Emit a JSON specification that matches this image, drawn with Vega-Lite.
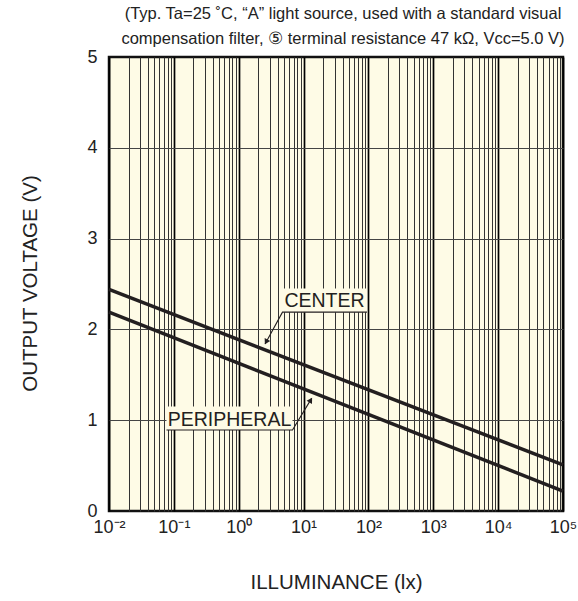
{
  "$schema": "https://vega.github.io/schema/vega-lite/v6.json",
  "width": 454,
  "height": 454,
  "autosize": {"type": "none"},
  "padding": {"left": 109, "top": 57, "right": 15, "bottom": 90},
  "background": "white",
  "config": {
    "font": "Liberation Sans",
    "view": {"fill": "#FEFBE6", "stroke": "#111", "strokeWidth": 2.5}
  },
  "title": {
    "text": [
      "(Typ. Ta=25 ˚C, “A” light source, used with a standard visual",
      "compensation filter, ⑤ terminal resistance 47 kΩ, Vcc=5.0 V)"
    ],
    "fontSize": 16.5,
    "fontWeight": "normal",
    "color": "#222",
    "anchor": "middle",
    "dx": 7,
    "offset": 1,
    "lineHeight": 25
  },
  "datasets": {
    "curves": [
      {"series": "CENTER", "lux": 0.01, "v": 2.44},
      {"series": "CENTER", "lux": 100000, "v": 0.507},
      {"series": "PERIPHERAL", "lux": 0.01, "v": 2.19},
      {"series": "PERIPHERAL", "lux": 100000, "v": 0.22}
    ],
    "boxes": [
      {"label": "CENTER", "lux": 4.73, "lux2": 95, "v": 2.19, "v2": 2.45},
      {"label": "PERIPHERAL", "lux": 0.077, "lux2": 6.75, "v": 0.892, "v2": 1.15}
    ],
    "leaders": [
      {"label": "CENTER", "o": 1, "lux": 95, "v": 2.19},
      {"label": "CENTER", "o": 2, "lux": 4.73, "v": 2.19},
      {"label": "CENTER", "o": 3, "lux": 2.55, "v": 1.84},
      {"label": "PERIPHERAL", "o": 1, "lux": 0.077, "v": 0.892},
      {"label": "PERIPHERAL", "o": 2, "lux": 6.75, "v": 0.892},
      {"label": "PERIPHERAL", "o": 3, "lux": 13.3, "v": 1.24}
    ],
    "arrows": [
      {"label": "CENTER", "lux": 2.65, "v": 1.862},
      {"label": "PERIPHERAL", "lux": 12.88, "v": 1.222}
    ],
    "labels": [
      {"label": "CENTER", "lux": 21, "v": 2.245},
      {"label": "PERIPHERAL", "lux": 0.72, "v": 0.934}
    ]
  },
  "layer": [
    {
      "data": {"name": "curves"},
      "mark": {"type": "line", "color": "#231F20", "strokeWidth": 3.5, "strokeCap": "butt"},
      "encoding": {
        "x": {
          "field": "lux",
          "type": "quantitative",
          "scale": {"type": "log", "domain": [0.01, 100000], "nice": false},
          "axis": {
            "values": [0.01,0.02,0.03,0.04,0.05,0.06,0.07,0.08,0.09,0.1,0.2,0.3,0.4,0.5,0.6,0.7,0.8,0.9,1,2,3,4,5,6,7,8,9,10,20,30,40,50,60,70,80,90,100,200,300,400,500,600,700,800,900,1000,2000,3000,4000,5000,6000,7000,8000,9000,10000,20000,30000,40000,50000,60000,70000,80000,90000,100000],
            "grid": true,
            "gridColor": {"condition": {"test": "abs(log(datum.value)/LN10 - round(log(datum.value)/LN10)) < 0.01", "value": "#000"}, "value": "#333"},
            "gridWidth": {"condition": {"test": "abs(log(datum.value)/LN10 - round(log(datum.value)/LN10)) < 0.01", "value": 1.7}, "value": 1},
            "ticks": false,
            "domain": false,
            "labelExpr": "abs(log(datum.value)/LN10 - round(log(datum.value)/LN10)) < 0.01 ? '10' + ['⁻²','⁻¹','⁰','¹','²','³','⁴','⁵'][round(log(datum.value)/LN10)+2] : ''",
            "labelOverlap": false,
            "labelFlush": false,
            "labelBound": false,
            "labelFontSize": 18,
            "labelColor": "#222",
            "labelPadding": 7,
            "title": "ILLUMINANCE (lx)",
            "titleFontSize": 20.5,
            "titleFontWeight": "normal",
            "titleColor": "#222",
            "titleX": 227,
            "titleY": 71,
            "titleBaseline": "middle",
            "titleAlign": "center"
          }
        },
        "y": {
          "field": "v",
          "type": "quantitative",
          "scale": {"domain": [0, 5], "nice": false},
          "axis": {
            "values": [0, 1, 2, 3, 4, 5],
            "format": "d",
            "grid": true,
            "gridColor": "#444",
            "gridWidth": 1.2,
            "gridOpacity": {"condition": {"test": "datum.value == 0 || datum.value == 5", "value": 0}, "value": 1},
            "ticks": false,
            "domain": false,
            "labelFontSize": 18,
            "labelColor": "#222",
            "labelPadding": 12,
            "title": "OUTPUT VOLTAGE (V)",
            "titleFontSize": 20.5,
            "titleFontWeight": "normal",
            "titleColor": "#222",
            "titleX": -79,
            "titleY": 226,
            "titleAngle": -90,
            "titleBaseline": "middle",
            "titleAlign": "center"
          }
        },
        "detail": {"field": "series"}
      }
    },
    {
      "data": {"name": "boxes"},
      "mark": {"type": "rect", "fill": "#FEFBE6", "stroke": null},
      "encoding": {
        "x": {"field": "lux", "type": "quantitative"},
        "x2": {"field": "lux2"},
        "y": {"field": "v", "type": "quantitative"},
        "y2": {"field": "v2"}
      }
    },
    {
      "data": {"name": "leaders"},
      "mark": {"type": "line", "color": "#231F20", "strokeWidth": 1.1},
      "encoding": {
        "x": {"field": "lux", "type": "quantitative"},
        "y": {"field": "v", "type": "quantitative"},
        "detail": {"field": "label"},
        "order": {"field": "o"}
      }
    },
    {
      "data": {"name": "arrows"},
      "transform": [{"filter": "datum.label == 'CENTER'"}],
      "mark": {"type": "point", "shape": "triangle-up", "filled": true, "color": "#231F20", "size": 40, "angle": 208, "opacity": 1},
      "encoding": {
        "x": {"field": "lux", "type": "quantitative"},
        "y": {"field": "v", "type": "quantitative"}
      }
    },
    {
      "data": {"name": "arrows"},
      "transform": [{"filter": "datum.label == 'PERIPHERAL'"}],
      "mark": {"type": "point", "shape": "triangle-up", "filled": true, "color": "#231F20", "size": 40, "angle": 31, "opacity": 1},
      "encoding": {
        "x": {"field": "lux", "type": "quantitative"},
        "y": {"field": "v", "type": "quantitative"}
      }
    },
    {
      "data": {"name": "labels"},
      "mark": {"type": "text", "fontSize": 19.5, "color": "#231F20", "align": "center", "baseline": "alphabetic"},
      "encoding": {
        "x": {"field": "lux", "type": "quantitative"},
        "y": {"field": "v", "type": "quantitative"},
        "text": {"field": "label"}
      }
    }
  ]
}
